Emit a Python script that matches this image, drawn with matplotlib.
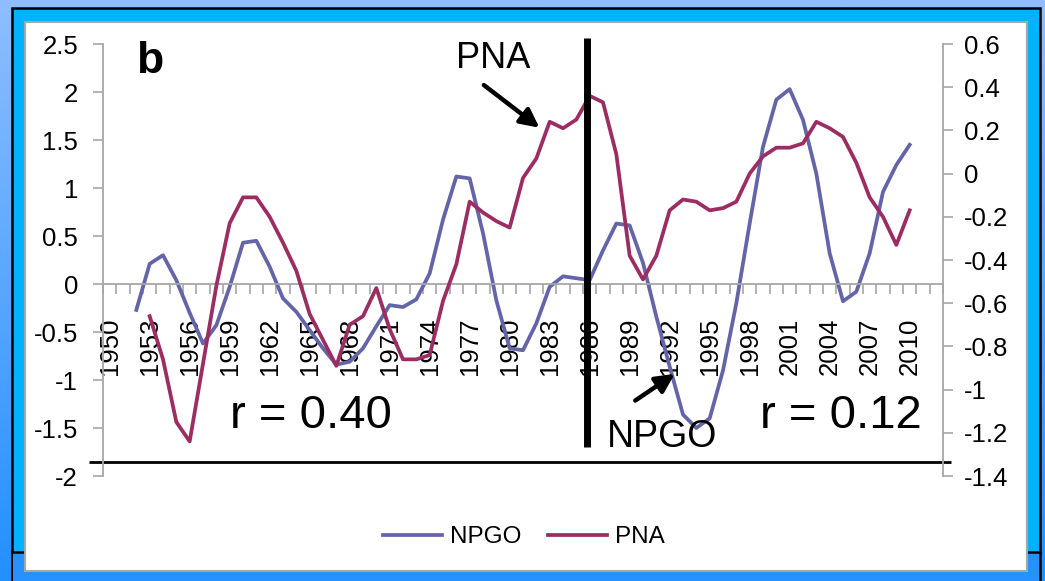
import numpy as np
import matplotlib
matplotlib.use("Agg")
import matplotlib.pyplot as plt
from matplotlib.colors import LinearSegmentedColormap
from matplotlib.patches import Rectangle
from matplotlib.ticker import FuncFormatter

plt.rcParams['font.family'] = ['Liberation Sans', 'DejaVu Sans']
plt.rcParams['axes.unicode_minus'] = False

# NPGO index (left axis)
npgo_years = list(range(1952, 2011))
npgo = [-0.27, 0.21, 0.30, 0.04, -0.30, -0.62, -0.43, -0.03, 0.43, 0.45,
        0.18, -0.15, -0.29, -0.48, -0.67, -0.84, -0.81, -0.67, -0.44, -0.22,
        -0.24, -0.16, 0.11, 0.67, 1.12, 1.10, 0.53, -0.17, -0.67, -0.69,
        -0.41, -0.03, 0.08, 0.06, 0.04, 0.35, 0.63, 0.61, 0.22, -0.34,
        -0.86, -1.36, -1.50, -1.40, -0.90, -0.20, 0.63, 1.43, 1.92, 2.03,
        1.71, 1.15, 0.32, -0.18, -0.08, 0.32, 0.96, 1.24, 1.45]

# PNA index (right axis)
pna_years = list(range(1953, 2011))
pna = [-0.66, -0.86, -1.15, -1.24, -0.88, -0.52, -0.23, -0.11, -0.11, -0.20,
       -0.32, -0.45, -0.65, -0.77, -0.89, -0.70, -0.66, -0.53, -0.72, -0.86,
       -0.86, -0.84, -0.59, -0.42, -0.13, -0.18, -0.22, -0.25, -0.02, 0.07,
       0.24, 0.21, 0.25, 0.36, 0.33, 0.09, -0.38, -0.49, -0.38, -0.17,
       -0.12, -0.13, -0.17, -0.16, -0.13, 0.00, 0.08, 0.12, 0.12, 0.14,
       0.24, 0.21, 0.17, 0.05, -0.11, -0.20, -0.33, -0.17]

year_labels = list(range(1950, 2011, 3))
left_ticks = np.arange(-2, 2.51, 0.5)
right_ticks = np.arange(-1.4, 0.61, 0.2)
split_year = 1985.8

NPGO_C = '#6464A8'
PNA_C = '#9B2D62'
GRAY = '#A6A6A6'
W, H = 1045, 581

fig = plt.figure(figsize=(W / 100, H / 100), dpi=100)

# slide background: gradient, cyan frame, white chart panel
bg = fig.add_axes([0, 0, 1, 1], zorder=-10)
grad = np.linspace(0, 1, 256).reshape(-1, 1)
cmap = LinearSegmentedColormap.from_list('bgblue', ['#8EBEFF', '#2290FF'])
bg.imshow(grad, aspect='auto', cmap=cmap, extent=[0, W, H, 0], zorder=0)
bg.add_patch(Rectangle((11.5, 8), 1028, 620, facecolor='#00B2FF', edgecolor='black', lw=1.8, zorder=1))
bg.add_patch(Rectangle((12.5, 552.5), 1026, 40, facecolor='#2592FF', edgecolor='none', zorder=1.1))
bg.plot([11.5, 1039.5], [552, 552], color='black', lw=1.8, zorder=1.2)
bg.add_patch(Rectangle((25, 22), 1002, 549, facecolor='white', edgecolor=GRAY, lw=1.5, zorder=2))
bg.set_xlim(0, W)
bg.set_ylim(H, 0)
bg.axis('off')

# plot area
ax = fig.add_axes([103 / W, 1 - 476 / H, 840 / W, 432 / H])
ax.patch.set_visible(False)
ax.plot(npgo_years, npgo, color=NPGO_C, lw=2.7, label='NPGO')
ax.set_xlim(1949.5, 2012.5)
ax.set_ylim(-2, 2.5)
ax.set_yticks(left_ticks)
ax.yaxis.set_major_formatter(FuncFormatter(lambda v, p: f'{round(v, 1) + 0:g}'))
ax.spines['bottom'].set_position(('data', 0))
for s in ['top', 'right']:
    ax.spines[s].set_visible(False)
for s in ['bottom', 'left']:
    ax.spines[s].set_color(GRAY)
    ax.spines[s].set_linewidth(1.3)
ax.set_xticks(year_labels)
ax.set_xticklabels([str(y) for y in year_labels])
ax.set_xticks(np.arange(1949.5, 2012.6, 1), minor=True)
ax.tick_params(axis='x', which='major', length=0, pad=24, labelsize=18.5, labelrotation=90)
ax.tick_params(axis='x', which='minor', length=7, width=1.2, color=GRAY, direction='out')
ax.tick_params(axis='y', length=7, width=1.2, color=GRAY, pad=11, labelsize=18.5)

ax2 = ax.twinx()
ax2.plot(pna_years, pna, color=PNA_C, lw=2.7, label='PNA')
ax2.set_ylim(-1.4, 0.6)
ax2.set_yticks(right_ticks)
ax2.yaxis.set_major_formatter(FuncFormatter(lambda v, p: f'{round(v, 1) + 0:g}'))
for s in ['top', 'left', 'bottom']:
    ax2.spines[s].set_visible(False)
ax2.spines['right'].set_color(GRAY)
ax2.spines['right'].set_linewidth(1.3)
ax2.tick_params(axis='y', length=7, width=1.2, color=GRAY, pad=8, labelsize=18.5)

# period split and baseline shapes
ax2.axvline(split_year, ymin=0.067, ymax=1.0139, color='black', lw=5, clip_on=False,
            zorder=5, solid_capstyle='butt')
ax.axhline(-1.854, xmin=-0.017, xmax=1.0095, color='black', lw=2, clip_on=False,
           solid_capstyle='butt')

# annotations
td = ax.transData
ax2.text(1952.0, 2.2, 'b', fontsize=32, fontweight='bold', transform=td)
ax2.text(1978.8, 2.25, 'PNA', fontsize=26, ha='center', transform=td)
ax2.annotate('', xy=(1982.4, 1.61), xytext=(1977.9, 2.09), xycoords=td, textcoords=td,
             arrowprops=dict(arrowstyle='-|>', lw=3.2, mutation_scale=28, color='black'))
ax2.text(1991.4, -1.70, 'NPGO', fontsize=27, ha='center', transform=td, zorder=6)
ax2.annotate('', xy=(1992.55, -0.92), xytext=(1989.25, -1.23), xycoords=td, textcoords=td,
             arrowprops=dict(arrowstyle='-|>', lw=3.2, mutation_scale=28, color='black'))
ax2.text(1959.0, -1.5, 'r = 0.40', fontsize=34, transform=td)
ax2.text(1998.8, -1.5, 'r = 0.12', fontsize=34, transform=td)

h1, l1 = ax.get_legend_handles_labels()
h2, l2 = ax2.get_legend_handles_labels()
fig.legend(h1 + h2, l1 + l2, loc='center', bbox_to_anchor=(524 / W, 1 - 537 / H), ncol=2,
           frameon=False, fontsize=17.5, handlelength=2.4, handletextpad=0.35, columnspacing=1.1)

fig.savefig('out.png', dpi=100)
